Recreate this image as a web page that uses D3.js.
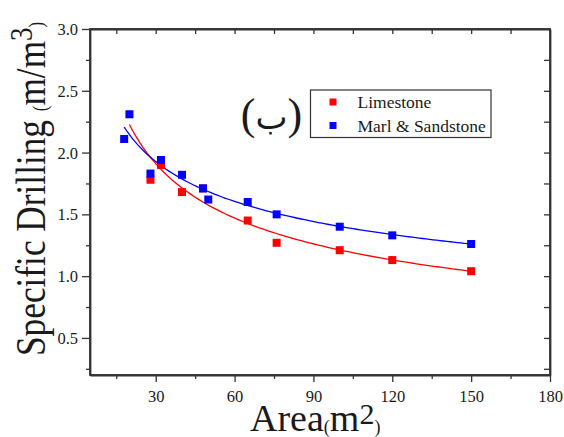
<!DOCTYPE html>
<html>
<head>
<meta charset="utf-8">
<script src="https://cdn.jsdelivr.net/npm/d3@7"></script>
<style>
  html, body { margin: 0; padding: 0; background: #fff; }
  svg { display: block; }
</style>
</head>
<body>
<svg id="chart" width="564" height="437"></svg>
<script>
// ---- data ----
const marlAreas = [18, 20, 28, 32, 40, 48, 50, 65, 76, 100, 120, 150];
const marlSandstone = [2.11, 2.31, 1.83, 1.94, 1.82, 1.71, 1.62, 1.60, 1.50, 1.40, 1.33, 1.26];
const limestoneAreas = [28, 32, 40, 48, 65, 76, 100, 120, 150];
const limestone = [1.78, 1.90, 1.68, 1.71, 1.45, 1.27, 1.21, 1.13, 1.04];
// power-law fit parameters (y = a * x^b), with x range
const limestoneFit = [6.91, -0.378, 20, 150];
const marlFit = [4.73, -0.264, 18, 150];
const xMajorTicks = [30, 60, 90, 120, 150, 180];
const xMinorTicks = [15, 45, 75, 105, 135, 165];
const yMajorTicks = [0.5, 1.0, 1.5, 2.0, 2.5, 3.0];
const yMinorTicks = [0.25, 0.75, 1.25, 1.75, 2.25, 2.75];
const seriesNames = ["Limestone", "Marl & Sandstone"];
const seriesColors = ["#ff0000", "#0000ff"];

const SERIF = "'Liberation Serif', 'Times New Roman', serif";
const svg = d3.select("#chart").style("font-family", SERIF);
const L = 90, R = 550, T = 29, B = 375;
const x = d3.scaleLinear().domain([5, 180]).range([L, R]);
const y = d3.scaleLinear().domain([0.2, 3.0]).range([B, T]);
const axisColor = "#333";
const textColor = "#1a1a1a";

function styleAxis(g) {
  g.attr("font-family", null);
  g.selectAll("path.domain").attr("stroke", axisColor).attr("stroke-width", 1.8);
  g.selectAll(".tick line").attr("stroke", axisColor).attr("stroke-width", 1.3);
  g.selectAll(".tick text").style("font-family", SERIF).attr("fill", textColor);
}

// bottom axis
const gb = svg.append("g").attr("transform", `translate(0,${B})`)
  .call(d3.axisBottom(x).tickValues(xMajorTicks).tickSize(7).tickSizeOuter(0).tickFormat(d3.format("d")));
gb.selectAll(".tick text").attr("font-size", 16.5).attr("dy", null).attr("y", 27);
styleAxis(gb);
const gbm = svg.append("g").attr("transform", `translate(0,${B})`)
  .call(d3.axisBottom(x).tickValues(xMinorTicks).tickSize(4).tickFormat(""));
gbm.select("path.domain").remove();
styleAxis(gbm);

// top axis (inward ticks)
const gt = svg.append("g").attr("transform", `translate(0,${T})`)
  .call(d3.axisTop(x).tickValues(xMajorTicks.concat(xMinorTicks).filter(v => v < 180)).tickSize(-5).tickSizeOuter(0).tickFormat(""));
styleAxis(gt);

// left axis
const gl = svg.append("g").attr("transform", `translate(${L},0)`)
  .call(d3.axisLeft(y).tickValues(yMajorTicks).tickSize(8).tickSizeOuter(0).tickFormat(d3.format(".1f")));
gl.selectAll(".tick text").attr("font-size", 16.5).attr("x", -12).attr("dy", "0.34em");
styleAxis(gl);
const glm = svg.append("g").attr("transform", `translate(${L},0)`)
  .call(d3.axisLeft(y).tickValues(yMinorTicks).tickSize(4).tickFormat(""));
glm.select("path.domain").remove();
styleAxis(glm);

// right axis (inward ticks)
const gr = svg.append("g").attr("transform", `translate(${R},0)`)
  .call(d3.axisRight(y).tickValues(yMajorTicks.concat(yMinorTicks).filter(v => v < 3)).tickSize(-6).tickSizeOuter(0).tickFormat(""));
styleAxis(gr);

// frame
svg.append("rect").attr("x", L).attr("y", T).attr("width", R - L).attr("height", B - T)
  .attr("fill", "none").attr("stroke", axisColor).attr("stroke-width", 1.8);

// fit curves
const line = d3.line().x(d => x(d[0])).y(d => y(d[1]));
function fitPoints(f) {
  const [a, b, x0, x1] = f;
  return d3.range(0, 101).map(i => { const xv = x0 + (x1 - x0) * i / 100; return [xv, a * Math.pow(xv, b)]; });
}
svg.append("path").attr("d", line(fitPoints(limestoneFit))).attr("fill", "none")
  .attr("stroke", seriesColors[0]).attr("stroke-width", 1.3);
svg.append("path").attr("d", line(fitPoints(marlFit))).attr("fill", "none")
  .attr("stroke", seriesColors[1]).attr("stroke-width", 1.3);

// markers
const S = 8;
svg.append("g").selectAll("rect").data(limestoneAreas.map((a, i) => [a, limestone[i]])).join("rect")
  .attr("x", d => x(d[0]) - S / 2).attr("y", d => y(d[1]) - S / 2).attr("width", S).attr("height", S)
  .attr("fill", seriesColors[0]);
svg.append("g").selectAll("rect").data(marlAreas.map((a, i) => [a, marlSandstone[i]])).join("rect")
  .attr("x", d => x(d[0]) - S / 2).attr("y", d => y(d[1]) - S / 2).attr("width", S).attr("height", S)
  .attr("fill", seriesColors[1]);

// legend
const lg = svg.append("g");
lg.append("rect").attr("x", 310.5).attr("y", 90).attr("width", 180.5).attr("height", 47.5)
  .attr("fill", "#fff").attr("stroke", axisColor).attr("stroke-width", 1.2);
seriesNames.forEach((n, i) => {
  const cy = 102 + i * 23.5;
  lg.append("rect").attr("x", 329.5).attr("y", cy - 3.5).attr("width", 7).attr("height", 7).attr("fill", seriesColors[i]);
  lg.append("text").attr("x", 357.5).attr("y", cy + 6).attr("font-size", 17.5)
    .style("font-family", SERIF).attr("fill", textColor).text(n);
});

// panel label
const pl = svg.append("text").attr("x", 271.5).attr("y", 129).attr("text-anchor", "middle")
  .attr("font-size", 44).style("font-family", SERIF).attr("direction", "ltr")
  .attr("fill", textColor);
pl.append("tspan").text("(");
pl.append("tspan").style("font-family", "'DejaVu Sans', sans-serif").attr("font-size", 34).text("\u0628");
pl.append("tspan").text(")");

// x axis title
const xt = svg.append("text").attr("x", 250).attr("y", 431).attr("font-size", 38)
  .style("font-family", SERIF).attr("fill", textColor);
xt.append("tspan").text("Area");
xt.append("tspan").attr("font-size", 18).attr("dy", 2).text("(");
xt.append("tspan").attr("dy", -2).text("m");
xt.append("tspan").attr("font-size", 30).attr("dy", -7).text("2");
xt.append("tspan").attr("font-size", 18).attr("dy", 9).text(")");

// y axis title
const yt = svg.append("text").attr("transform", "translate(45,356) rotate(-90) scale(0.84,1)").attr("font-size", 42)
  .style("font-family", SERIF).attr("fill", textColor);
yt.append("tspan").text("Specific Drilling ");
yt.append("tspan").attr("font-size", 20).attr("dy", 2).text("(");
yt.append("tspan").attr("dy", -2).text("m/m");
yt.append("tspan").attr("font-size", 32).attr("dy", -13).text("3");
yt.append("tspan").attr("font-size", 20).attr("dy", 11).text(")");
</script>
</body>
</html>
